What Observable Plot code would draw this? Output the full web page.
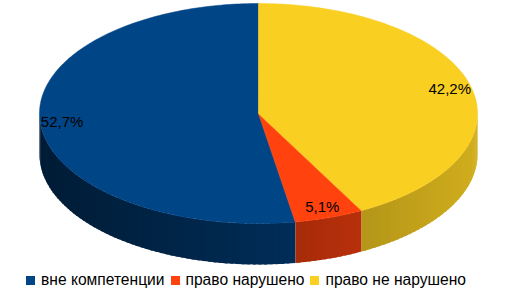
<!DOCTYPE html>
<html>
<head>
<meta charset="utf-8">
<script src="https://cdn.jsdelivr.net/npm/d3@7"></script>
<script src="https://cdn.jsdelivr.net/npm/@observablehq/plot@0.6"></script>
<style>
  html, body { margin: 0; padding: 0; background: #fff; }
  #wrap { width: 510px; height: 299px; position: relative; font-family: "Liberation Sans", Arial, sans-serif; }
  #legend { display: flex; align-items: center; padding-left: 26px; height: 24px; font-size: 15.6px; color: #000; }
  .item { display: flex; align-items: center; margin-right: 6px; }
  .sw { width: 9px; height: 9px; margin-right: 6px; }
</style>
</head>
<body>
<div id="wrap"><div id="chart"></div><div id="legend"></div></div>
<script>
const categories = ["вне компетенции", "право нарушено", "право не нарушено"];
const values = [52.7, 5.1, 42.2];
const labels = ["52,7%", "5,1%", "42,2%"];
const colors = ["#004586", "#ff420e", "#f9cf22"];

const W = 510, H = 268;
const cx = 258, cy = 113, rx = 219, ry = 110, depth = 41;
function pt(t, dy = 0) {
  const a = t * Math.PI / 180;
  return [cx + rx * Math.sin(a), cy - ry * Math.cos(a) + dy];
}
function shade(hex, t) {
  const f = 0.62 + 0.22 * Math.sin(t * Math.PI / 180);
  const c = d3.rgb(hex);
  return d3.rgb(c.r * f, c.g * f, c.b * f).formatHex();
}

const total = d3.sum(values);
let cum = 0;
const slices = values.map((v, i) => {
  const start = cum; cum += v;
  // counterclockwise from 12 o'clock; t measured clockwise from top
  return {i, t0: 360 - cum / total * 360, t1: 360 - start / total * 360};
});

const topRows = [], sideRows = [], labelRows = [];
slices.forEach(s => {
  const id = "top" + s.i;
  topRows.push({poly: id, x: cx, y: cy, fill: colors[s.i]});
  const n = Math.max(2, Math.ceil((s.t1 - s.t0)));
  for (let k = 0; k <= n; k++) {
    const [x, y] = pt(s.t0 + (s.t1 - s.t0) * k / n);
    topRows.push({poly: id, x, y, fill: colors[s.i]});
  }
  const lo = Math.max(s.t0, 90), hi = Math.min(s.t1, 270);
  if (lo < hi) {
    const m = Math.max(1, Math.ceil((hi - lo) / 1.5));
    for (let k = 0; k < m; k++) {
      const a = lo + (hi - lo) * k / m;
      const b = Math.min(hi, lo + (hi - lo) * (k + 1) / m + 0.8);
      const sid = "side" + s.i + "_" + k;
      const fill = shade(colors[s.i], (a + b) / 2);
      [[a, 0], [b, 0], [b, depth], [a, depth]].forEach(([t, dy]) => {
        const [x, y] = pt(t, dy);
        sideRows.push({poly: sid, x, y, fill});
      });
    }
  }
  const mid = (s.t0 + s.t1) / 2;
  const a = mid * Math.PI / 180, r = 0.9;
  labelRows.push({x: cx + rx * r * Math.sin(a), y: cy - ry * r * Math.cos(a), text: labels[s.i]});
});

const chart = Plot.plot({
  width: W, height: H,
  marginTop: 0, marginRight: 0, marginBottom: 0, marginLeft: 0,
  x: {domain: [0, W], range: [0, W], axis: null},
  y: {domain: [0, H], range: [0, H], axis: null},
  color: {type: "identity"},
  style: {background: "#fff", fontFamily: "'Liberation Sans', Arial, sans-serif"},
  marks: [
    Plot.line(sideRows, {x: "x", y: "y", z: "poly", fill: "fill", stroke: "none", curve: "linear-closed"}),
    Plot.line(topRows, {x: "x", y: "y", z: "poly", fill: "fill", stroke: "fill", strokeWidth: 0.5, curve: "linear-closed"}),
    Plot.text(labelRows, {x: "x", y: "y", text: "text", fontSize: 15, fill: "#000"})
  ]
});
document.getElementById("chart").appendChild(chart);

const legend = document.getElementById("legend");
categories.forEach((c, i) => {
  const it = document.createElement("div");
  it.className = "item";
  it.innerHTML = `<div class="sw" style="background:${colors[i]}"></div><span>${c}</span>`;
  legend.appendChild(it);
});
</script>
</body>
</html>
